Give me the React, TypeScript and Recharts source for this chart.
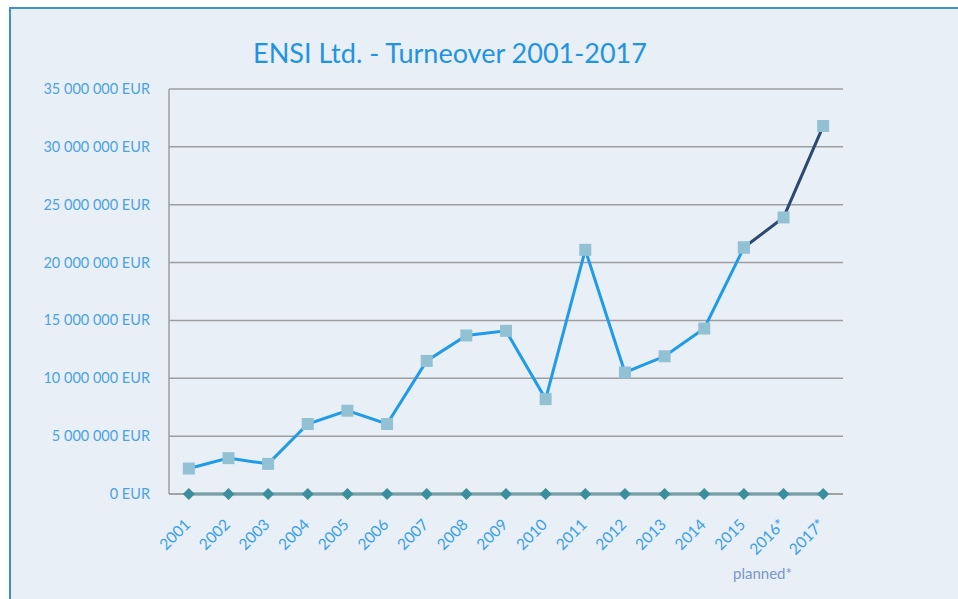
import React from 'react';
import { LineChart, Line, XAxis, YAxis, CartesianGrid } from 'recharts';

const categories = ['2001','2002','2003','2004','2005','2006','2007','2008','2009','2010','2011','2012','2013','2014','2015','2016*','2017*'];
const turnover = [2200000,3100000,2600000,6050000,7200000,6050000,11500000,13700000,14100000,8200000,21100000,10500000,11900000,14300000,21300000,23900000,31800000];
const lastActualIndex = 14;
const yTicks = [0,5000000,10000000,15000000,20000000,25000000,30000000,35000000];

const data = categories.map((c, i) => ({
  year: c,
  actual: i <= lastActualIndex ? turnover[i] : null,
  planned: i >= lastActualIndex ? turnover[i] : null,
  zero: 0,
}));

const FONT = 'Lato, "Open Sans", sans-serif';

const fmt = (v: number) => {
  const s = String(v).replace(/\B(?=(\d{3})+(?!\d))/g, ' ');
  return s + ' EUR';
};

const SquareDot = (props: any) => {
  const { cx, cy, value, index } = props;
  if (value == null || cx == null || cy == null) return <g key={'s' + index} />;
  return <rect key={'s' + index} x={cx - 6} y={cy - 6} width={12} height={12} fill="#92C1D3" />;
};

const DiamondDot = (props: any) => {
  const { cx, cy, index } = props;
  if (cx == null || cy == null) return <g key={'d' + index} />;
  return <path key={'d' + index} d={`M${cx},${cy - 6}L${cx + 6},${cy}L${cx},${cy + 6}L${cx - 6},${cy}Z`} fill="#3B8E9B" />;
};

const YTick = (props: any) => {
  const { x, y, payload } = props;
  return (
    <text x={x} y={y} dy={5} textAnchor="end" fill="#4BA3DF" fontSize={14.5} fontFamily={FONT}>
      {fmt(payload.value)}
    </text>
  );
};

const XTick = (props: any) => {
  const { x, y, payload } = props;
  return (
    <g transform={`translate(${x - 1},${y + 26})`}>
      <text x={0} y={0} dy={5} textAnchor="end" transform="rotate(-45)" fill="#3AA0E6" fontSize={15.5} fontFamily={FONT}>
        {payload.value}
      </text>
    </g>
  );
};

export default function App() {
  return (
    <div style={{ position: 'absolute', left: 0, top: 0, width: 958, height: 599, background: '#fff', overflow: 'hidden' }}>
      <div style={{ position: 'absolute', left: 9, top: 7, right: 0, bottom: 0, borderLeft: '2px solid #3D8FD8', borderTop: '2px solid #3D8FD8', background: '#E9EFF7' }} />
      <div style={{ position: 'absolute', left: 0, top: 0 }}>
        <LineChart width={958} height={599} data={data} margin={{ top: 89, right: 115, bottom: 75, left: 0 }}>
          <text x={450} y={63} textAnchor="middle" fill="#2194E1" fontSize={27} fontFamily={FONT}>
            ENSI Ltd. - Turneover 2001-2017
          </text>
          <text x={733} y={579} textAnchor="start" fill="#7B96C6" fontSize={15} fontFamily={FONT}>
            planned*
          </text>
          <CartesianGrid horizontal vertical={false} stroke="#9E9E9E" strokeWidth={1.5} />
          <XAxis dataKey="year" scale="band" height={30} tickLine={false} tickSize={0} axisLine={{ stroke: '#9E9E9E', strokeWidth: 1.5 }} tick={<XTick />} interval={0} />
          <YAxis width={169} domain={[0, 35000000]} ticks={yTicks} tickLine={false} tickSize={0} tickMargin={19} axisLine={{ stroke: '#9E9E9E', strokeWidth: 1.5 }} tick={<YTick />} />
          <Line dataKey="zero" stroke="#3B8E9B" strokeWidth={3} dot={DiamondDot} activeDot={false} isAnimationActive={false} />
          <Line dataKey="planned" stroke="#2C4A70" strokeWidth={3} dot={SquareDot} activeDot={false} connectNulls={false} isAnimationActive={false} />
          <Line dataKey="actual" stroke="#1F9BEA" strokeWidth={3} dot={SquareDot} activeDot={false} connectNulls={false} isAnimationActive={false} />
        </LineChart>
      </div>
    </div>
  );
}
